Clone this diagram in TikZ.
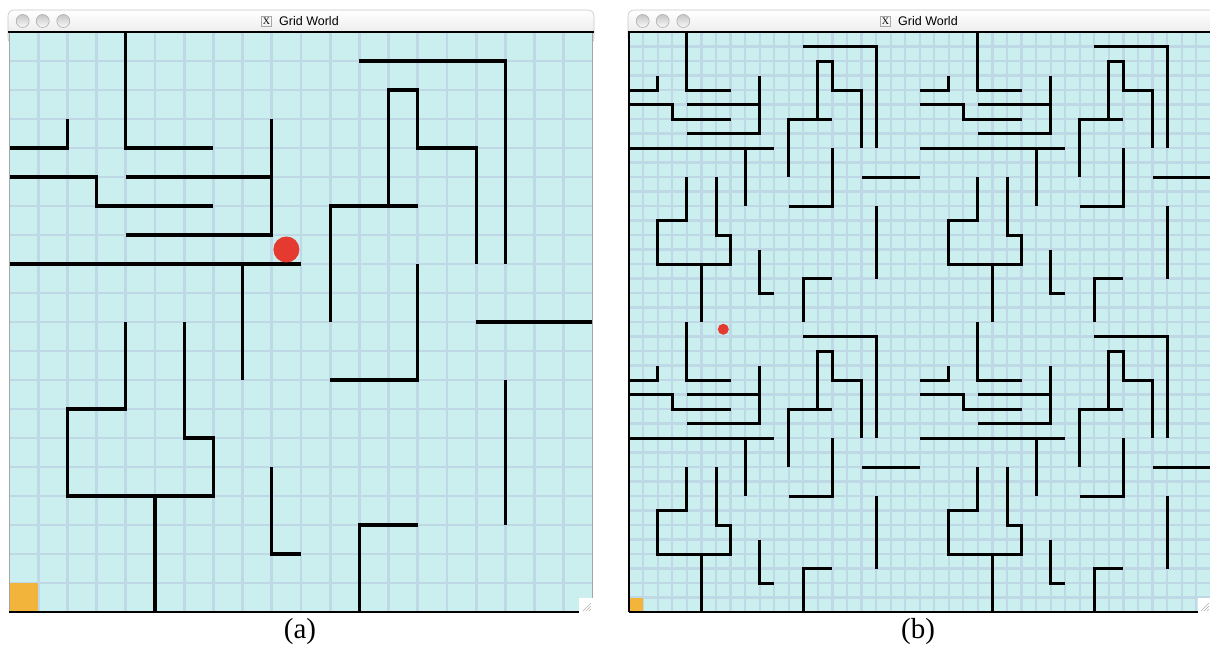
\documentclass[tikz,border=0pt]{standalone}
\usepackage{fontspec}
\setmainfont{Liberation Serif}
\newfontfamily\titlefont{Liberation Sans}

\definecolor{gridbg}{RGB}{203,239,238}
\definecolor{gridln}{RGB}{191,216,230}
\definecolor{agentred}{RGB}{229,58,47}
\definecolor{goalorange}{RGB}{242,180,58}

\tikzset{
  wall/.style={line width=3.2pt,line join=miter},
  gridline/.style={gridln,line width=2.8pt},
  titlebar/.style={top color=white,bottom color=gray!22,draw=gray!45,line width=0.6pt,rounded corners=6pt},
  winbtn/.style={top color=gray!45,bottom color=gray!5,draw=gray!65,line width=0.6pt},
  xicon/.style={draw=gray!70,line width=0.5pt,minimum size=10pt,inner sep=0pt,font=\rmfamily\fontsize{10}{10}\selectfont},
  wintitle/.style={anchor=west,inner sep=0pt,font=\titlefont\fontsize{12.5}{13}\selectfont},
  caption/.style={font=\fontsize{29}{30}\selectfont}
}

% walls of one 20x20 maze, in cell units
\newcommand{\mazewalls}{%
  \draw[wall] (4,0) -- (4,4) -- (7,4);
  \draw[wall] (0,4) -- (2,4) -- (2,3);
  \draw[wall] (0,5) -- (3,5) -- (3,6) -- (7,6);
  \draw[wall] (4,5) -- (9,5);
  \draw[wall] (9,3) -- (9,7) -- (4,7);
  \draw[wall] (0,8) -- (10,8);
  \draw[wall] (8,8) -- (8,12);
  \draw[wall] (12,1) -- (17,1) -- (17,8);
  \draw[wall] (13,6) -- (13,2) -- (14,2) -- (14,4) -- (16,4) -- (16,8);
  \draw[wall] (11,10) -- (11,6) -- (14,6);
  \draw[wall] (11,12) -- (14,12) -- (14,8);
  \draw[wall] (16,10) -- (20,10);
  \draw[wall] (17,12) -- (17,17);
  \draw[wall] (4,10) -- (4,13) -- (2,13) -- (2,16) -- (7,16) -- (7,14) -- (6,14) -- (6,10);
  \draw[wall] (5,16) -- (5,20);
  \draw[wall] (9,15) -- (9,18) -- (10,18);
  \draw[wall] (12,20) -- (12,17) -- (14,17);
}

\begin{document}
\begin{tikzpicture}[x=1pt,y=-1pt]
\useasboundingbox (0,0) rectangle (1210,648);

% window (a)
\path[titlebar] (8,10) rectangle (594,44);
\draw[winbtn] (22.7,21) circle[radius=6.5pt];
\draw[winbtn] (42.7,21) circle[radius=6.5pt];
\draw[winbtn] (63.3,21) circle[radius=6.5pt];
\node[xicon] (iconA) at (266.5,21) {X};
\node[wintitle] (titleA) at (279,21.5) {Grid World};
\fill[gridbg] (9,32) rectangle (593,612);
\begin{scope}[shift={(9pt,-32pt)},x=29.2pt,y=-29pt]
  \foreach \k in {1,...,19} {
    \draw[gridline] (\k,0) -- (\k,20);
    \draw[gridline] (0,\k) -- (20,\k);
  }
  \fill[goalorange] (0,19) rectangle (1,20);
  \mazewalls
  \fill[agentred] (9.5,7.5) circle[radius=13pt];
\end{scope}
\draw[gray!70,line width=1pt] (9,32) -- (9,612);
\draw[gray!70,line width=1pt] (592.5,32) -- (592.5,598);
\draw[line width=2pt] (8,31.5) -- (594,31.5);
\draw[line width=2.4pt] (9,612) -- (579,612);
\fill[white] (579,598) rectangle (593,613);
\draw[gray!60,line width=0.6pt] (583,611) -- (591,603) (586,611) -- (591,606) (589,611) -- (591,609);
\node[caption] (capA) at (300,632) {(a)};

% window (b)
\path[titlebar] (628,10) rectangle (1216,44);
\draw[winbtn] (642.7,21) circle[radius=6.5pt];
\draw[winbtn] (662.7,21) circle[radius=6.5pt];
\draw[winbtn] (683.3,21) circle[radius=6.5pt];
\node[xicon] (iconB) at (885.5,21) {X};
\node[wintitle] (titleB) at (898,21.5) {Grid World};
\fill[gridbg] (628.7,32) rectangle (1210,612);
\begin{scope}[shift={(628.7pt,-32pt)},x=14.55pt,y=-14.5pt]
  \foreach \k in {1,...,39} {
    \draw[gridline,line width=2.2pt] (\k,0) -- (\k,40);
    \draw[gridline,line width=2.2pt] (0,\k) -- (40,\k);
  }
  \fill[goalorange] (0,39) rectangle (1,40);
  \foreach \ti in {0,20} {
    \foreach \tj in {0,20} {
      \begin{scope}[shift={(\ti,\tj)},wall/.append style={line width=3pt}]
        \mazewalls
      \end{scope}
    }
  }
  \fill[agentred] (6.5,20.5) circle[radius=5.5pt];
\end{scope}
\draw[line width=2pt] (629,32) -- (629,612);
\draw[line width=2pt] (628,31.5) -- (1210,31.5);
\draw[line width=2.4pt] (629,612) -- (1198,612);
\fill[white] (1198,598) rectangle (1210,613);
\draw[gray!60,line width=0.6pt] (1201,611) -- (1209,603) (1204,611) -- (1209,606) (1207,611) -- (1209,609);
\node[caption] (capB) at (918,632) {(b)};
\end{tikzpicture}
\end{document}
